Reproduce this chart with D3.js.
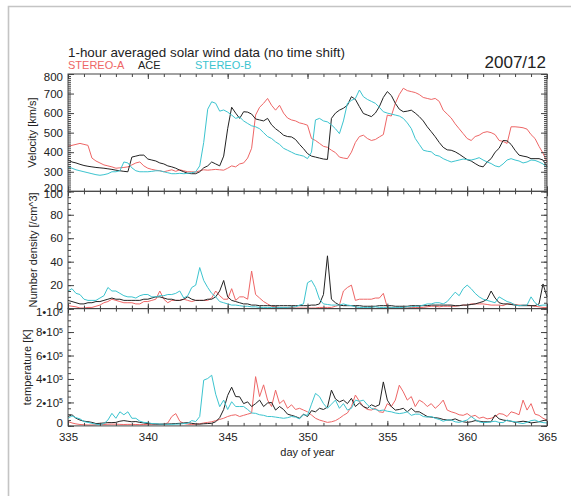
<!DOCTYPE html>
<html>
<head>
<meta charset="utf-8">
<script src="https://cdn.jsdelivr.net/npm/d3@7"></script>
<style>
  body { margin: 0; background: #fff; }
  svg { display: block; }
  text { font-family: "Liberation Sans", Arial, Helvetica, sans-serif; fill: #222; }
</style>
</head>
<body>
<div id="chart"></div>
<script>
// hourly data, sampled every 6 hours from day 335.00 to 365.00
var startDay = 335, stepDay = 0.25;

// Velocity [km/s]
var velA = [
  430, 435, 440, 445,  440, 435, 370, 355,  345, 335, 330, 325,  318, 320, 322, 325,
  335, 345, 350, 330,  318, 312, 308, 305,  300, 305, 310, 302,  310, 305, 300, 300,
  298, 305, 310, 308,  310, 312, 310, 308,  318, 330, 325, 340,  345, 370, 420, 590,
  630, 650, 675, 640,  615, 640, 600, 575,  565, 560, 550, 545,  538, 470, 460, 445,
  430, 425, 410, 398,  375, 370, 367, 400,  450, 480, 487, 470,  460, 465, 478, 490,
  590, 585, 650, 695,  727, 715, 710, 705,  695, 680, 675, 670,  675, 660, 615, 595,
  575, 545, 520, 495,  470, 460, 480, 487,  500, 505, 500, 490,  460, 455, 445, 530,
  530, 528, 525, 518,  490, 470, 430, 395,  350
];
var velACE = [
  360, 350, 345, 338,  332, 328, 325, 322,  320, 318, 315, 312,  308, 305, 302, 300,
  375, 380, 385, 385,  365, 360, 355, 345,  340, 330, 325, 318,  308, 300, 292, 290,
  290, 300, 320, 330,  350, 340, 330, 380,  520, 630, 600, 573,  607, 605, 595, 570,
  565, 560, 573, 540,  520, 505, 487, 480,  478, 465, 440, 418,  393, 380, 375, 370,
  365, 363, 573, 600,  615, 625, 640, 684,  670, 633, 598, 590,  582, 600, 633, 680,
  710, 690, 650, 620,  607, 610, 615, 600,  582, 560, 530, 505,  479, 450, 425, 412,
  410, 402, 390, 376,  362, 355, 342, 330,  325, 350, 367, 400,  420, 460, 458, 440,
  410, 385, 380, 376,  367, 367, 367, 360,  325
];
var velB = [
  325, 318, 310, 305,  300, 295, 290, 285,  282, 285, 290, 300,  300, 305, 350, 345,
  320, 305, 300, 300,  300, 302, 305, 305,  300, 295, 290, 290,  292, 290, 292, 295,
  300, 330, 450, 620,  658, 650, 610, 616,  605, 590, 573, 580,  560, 547, 535, 530,
  520, 500, 480, 470,  453, 440, 420, 410,  400, 390, 385, 380,  367, 400, 565, 573,
  560, 555, 540, 520,  495, 560, 650, 665,  675, 718, 684, 670,  660, 650, 630, 607,
  600, 595, 590, 585,  573, 550, 521, 470,  440, 410, 405, 402,  385, 380, 367, 358,
  350, 355, 360, 365,  362, 360, 365, 372,  360, 350, 342, 330,  325, 340, 360, 367,
  360, 355, 345, 350,  360, 358, 350, 340,  320
];

// Number density [/cm^3]
var denA = [
  2.5, 2, 1.5, 0.5,  0.5, 1, 1, 2,  3, 5, 6, 8,  7, 6, 5, 5,
  5, 4, 4, 6,  6, 7, 8, 15,  8, 5, 7, 7,  7, 8, 7, 6,
  7, 7, 7, 7,  9, 15, 11, 8,  8, 17, 7, 10,  10, 8, 32, 12,
  9, 6, 4, 2,  1.5, 1, 1, 1,  1, 0.5, 0.5, 0.5,  0.5, 0.5, 0.5, 1,
  1, 1, 1, 2,  3, 15, 18, 20,  7, 8, 8, 8,  8, 9, 9, 13,
  1, 1, 0.5, 0.5,  0.5, 0.5, 1, 1,  1, 1, 1.5, 2,  2, 1.5, 2, 2,
  2, 2, 2.5, 3,  3, 4, 4, 4,  4, 3.5, 3, 3,  3, 2.5, 4, 4,
  3.5, 3, 3, 3,  2.5, 2, 1.5, 1,  1
];
var denACE = [
  7, 6, 5, 4,  4, 5, 5, 6,  6, 7, 8, 9,  8, 8, 7, 7,
  7, 7, 7, 8,  8, 9, 10, 10,  9, 8, 8, 7,  7, 8, 10, 8,
  7, 7, 7, 8,  8, 10, 15, 24,  10, 7, 6, 5,  4, 4, 3, 3,
  2.5, 2.5, 2.5, 2.5,  2.5, 2.5, 2.5, 2.5,  2.5, 2.5, 2.5, 2.5,  2.5, 3, 3, 4,
  12, 45, 8, 5,  3, 2.5, 2.5, 2.5,  2.5, 2.5, 2, 2,  2, 2, 2.5, 2.5,
  2.5, 2.5, 2, 2,  2, 2, 2.5, 2.5,  2.5, 2.5, 2.5, 3,  3, 3, 3, 3,
  3, 2.5, 2.5, 3,  3, 3.5, 4, 5,  6, 8, 15, 9,  5, 4, 4, 3.5,
  3, 2.5, 2.5, 2.5,  2.5, 2.5, 4, 21,  10
];
var denB = [
  15, 17, 13, 12,  8, 7, 7, 7,  9, 11, 18, 15,  15, 13, 11, 10,
  10, 9, 11, 12,  12, 10, 10, 11,  11, 12, 12, 13,  15, 9, 11, 18,
  20, 35, 24, 18,  13, 10, 6, 5,  4, 3, 3, 2.5,  2, 2, 1.5, 1.5,
  1, 1, 1, 1,  1, 1, 1, 1,  1.5, 1.5, 3, 4,  22, 24, 18, 8,
  4, 3.5, 3, 3,  3, 4, 3, 2.5,  1.5, 1, 1, 1,  1, 1.5, 1, 1,
  1, 1, 1, 1,  1, 1.5, 1.5, 2,  2, 3, 4, 4,  5, 5, 4, 6,
  10, 14, 11, 17,  20, 17, 13, 10,  8, 7, 6, 5,  10, 8, 6, 5,
  3, 2.5, 3, 3,  10, 5, 2.5, 3,  3
];

// Temperature [10^3 K]
var tempA = [
  37, 25, 17, 12,  10, 8, 8, 10,  12, 12, 14, 15,  15, 13, 12, 13,
  13, 12, 11, 12,  13, 14, 13, 12,  15, 25, 80, 105,  40, 20, 15, 12,
  15, 18, 25, 30,  35, 45, 55, 65,  80, 90, 95, 80,  90, 100, 110, 420,
  250, 350, 220, 165,  305, 190, 220, 150,  180, 140, 150, 135,  120, 93, 65, 50,
  40, 30, 35, 45,  65, 90, 110, 165,  263, 210, 165, 140,  135, 150, 120, 115,
  190, 165, 220, 347,  290, 220, 250, 165,  220, 200, 165, 190,  150, 180, 220, 135,
  120, 110, 95, 90,  105, 80, 90, 65,  75, 60, 65, 80,  105, 100, 80, 120,
  110, 95, 220, 135,  190, 100, 90, 65,  50
];
var tempACE = [
  80, 95, 65, 50,  40, 36, 30, 20,  22, 25, 28, 28,  30, 40, 45, 40,
  35, 37, 30, 25,  20, 18, 16, 15,  15, 16, 18, 20,  22, 25, 28, 22,
  17, 15, 18, 20,  22, 35, 70, 140,  260, 330, 250, 248,  190, 205, 165, 190,
  220, 165, 195, 200,  135, 165, 140, 100,  90, 80, 65, 100,  80, 130, 120, 150,
  140, 160, 305, 230,  205, 220, 190, 235,  165, 195, 165, 150,  180, 165, 180, 375,
  220, 165, 135, 140,  150, 120, 150, 120,  120, 100, 80, 75,  70, 65, 55, 50,
  50, 60, 45, 35,  30, 35, 45, 40,  35, 35, 35, 93,  60, 50, 45, 40,
  30, 35, 40, 35,  25, 30, 35, 45,  50
];
var tempB = [
  65, 85, 70, 60,  37, 30, 22, 15,  10, 20, 50, 107,  65, 120, 95, 120,
  65, 65, 40, 30,  28, 20, 18, 15,  15, 14, 13, 15,  16, 20, 22, 45,
  37, 80, 390, 404,  432, 270, 164, 220,  140, 206, 165, 165,  165, 140, 110, 107,
  95, 90, 80, 80,  75, 70, 65, 70,  80, 75, 60, 95,  90, 185, 277, 250,
  190, 150, 185, 220,  150, 190, 135, 150,  220, 210, 220, 180,  150, 140, 130, 135,
  125, 120, 110, 105,  110, 120, 90, 100,  100, 80, 75, 80,  65, 55, 40, 50,
  50, 35, 30, 40,  50, 80, 55, 35,  28, 30, 35, 40,  30, 28, 50, 40,
  35, 25, 20, 30,  45, 50, 35, 28,  25
];

var seriesNames = ["STEREO-A", "ACE", "STEREO-B"];
var seriesColors = ["#ee6666", "#222222", "#3cc4cf"];

var xTicks = [335, 340, 345, 350, 355, 360, 365];
var velTicks = [200, 300, 400, 500, 600, 700, 800];
var denTicks = [0, 20, 40, 60, 80, 100];
var tempTicks = [0, 200, 400, 600, 800, 1000];

var width = 571, height = 496;
var left = 68, right = 547, top0 = 74, panelH = 117.3;

var svg = d3.select("#chart").append("svg")
  .attr("width", width)
  .attr("height", height);

// grey frame (top and left edge)
svg.append("path")
  .attr("d", "M8.5,496 L8.5,6.5 L571,6.5")
  .attr("fill", "none")
  .attr("stroke", "#c4c4c4")
  .attr("stroke-width", 1.6);

var x = d3.scaleLinear().domain([335, 365]).range([left, right]);

var panels = [
  { name: "Velocity [km/s]", data: [velA, velACE, velB], domain: [200, 800], ticks: velTicks, minor: 10, labelX: 32 },
  { name: "Number density [/cm^3]", data: [denA, denACE, denB], domain: [0, 100], ticks: denTicks, minor: 5, labelX: 33 },
  { name: "temperature [K]", data: [tempA, tempACE, tempB], domain: [0, 1000], ticks: tempTicks, minor: 50, labelX: 27 }
];

function tempLabel(sel) {
  sel.each(function(d) {
    var t = d3.select(this).text("");
    if (d === 0) { t.text("0"); return; }
    var mant = d >= 1000 ? d / 1000 : d / 100;
    var expo = d >= 1000 ? "6" : "5";
    t.append("tspan").text(mant + "\u2022" + "10");
    t.append("tspan").attr("dy", "-0.45em").attr("font-size", "7px").text(expo);
  });
}

panels.forEach(function(p, k) {
  var pTop = top0 + k * panelH, pBot = pTop + panelH;
  var y = d3.scaleLinear().domain(p.domain).range([pBot, pTop]);
  var g = svg.append("g");

  // lines
  var line = d3.line()
    .x(function(d, i) { return x(startDay + i * stepDay); })
    .y(function(d) { return y(d); });
  p.data.forEach(function(arr, s) {
    g.append("path")
      .datum(arr)
      .attr("fill", "none")
      .attr("stroke", seriesColors[s])
      .attr("stroke-width", 1)
      .attr("stroke-linejoin", "round")
      .attr("d", line);
  });

  var minorY = d3.range(p.domain[0], p.domain[1] + 0.001, p.minor);
  var minorX = d3.range(335, 366, 1);

  // minor ticks
  g.append("g").attr("transform", "translate(" + left + ",0)")
    .call(d3.axisLeft(y).tickValues(minorY).tickSize(-3).tickFormat(""));
  g.append("g").attr("transform", "translate(" + right + ",0)")
    .call(d3.axisRight(y).tickValues(minorY).tickSize(-3).tickFormat(""));
  g.append("g").attr("transform", "translate(0," + pBot + ")")
    .call(d3.axisBottom(x).tickValues(minorX).tickSize(-3).tickFormat(""));
  g.append("g").attr("transform", "translate(0," + pTop + ")")
    .call(d3.axisTop(x).tickValues(minorX).tickSize(-3).tickFormat(""));

  // major ticks with labels
  var yAxis = d3.axisLeft(y).tickValues(p.ticks).tickSize(-6).tickPadding(5);
  var ya = g.append("g").attr("transform", "translate(" + left + ",0)").call(yAxis);
  ya.selectAll("text").attr("font-size", "11.5px");
  if (k === 2) ya.selectAll("text").call(tempLabel);
  // keep end labels inside their own panel, as in the original plot
  ya.selectAll("text").attr("y", function(d) {
    if (d === p.domain[0]) return -3;
    if (d === p.domain[1]) return 3;
    return 0;
  });
  g.append("g").attr("transform", "translate(" + right + ",0)")
    .call(d3.axisRight(y).tickValues(p.ticks).tickSize(-6).tickFormat(""));
  var xb = g.append("g").attr("transform", "translate(0," + pBot + ")")
    .call(d3.axisBottom(x).tickValues(xTicks).tickSize(-5).tickPadding(7)
      .tickFormat(k === 2 ? d3.format("d") : ""));
  xb.selectAll("text").attr("font-size", "11.5px");
  g.append("g").attr("transform", "translate(0," + pTop + ")")
    .call(d3.axisTop(x).tickValues(xTicks).tickSize(-5).tickFormat(""));

  g.selectAll(".domain").remove();
  g.selectAll(".tick line").attr("stroke", "#444");

  // panel box
  g.append("rect")
    .attr("x", left).attr("y", pTop)
    .attr("width", right - left).attr("height", panelH)
    .attr("fill", "none").attr("stroke", "#444").attr("stroke-width", 1);

  // y axis title
  svg.append("text")
    .attr("transform", "translate(" + p.labelX + "," + (pTop + panelH / 2) + ") rotate(-90)")
    .attr("text-anchor", "middle")
    .attr("dy", "0.35em")
    .attr("font-size", "11px")
    .text(p.name);
});

// x axis title
svg.append("text")
  .attr("x", (left + right) / 2).attr("y", 456)
  .attr("text-anchor", "middle")
  .attr("font-size", "11px")
  .text("day of year");

// title and legend
svg.append("text")
  .attr("x", left).attr("y", 56.5)
  .attr("font-size", "13.4px")
  .text("1-hour averaged solar wind data (no time shift)");

var legendX = [68, 138, 195];
seriesNames.forEach(function(n, i) {
  svg.append("text")
    .attr("x", legendX[i]).attr("y", 69)
    .attr("font-size", "11px")
    .style("fill", seriesColors[i])
    .text(n);
});

svg.append("text")
  .attr("x", 546).attr("y", 68)
  .attr("text-anchor", "end")
  .attr("font-size", "17px")
  .text("2007/12");
</script>
</body>
</html>
